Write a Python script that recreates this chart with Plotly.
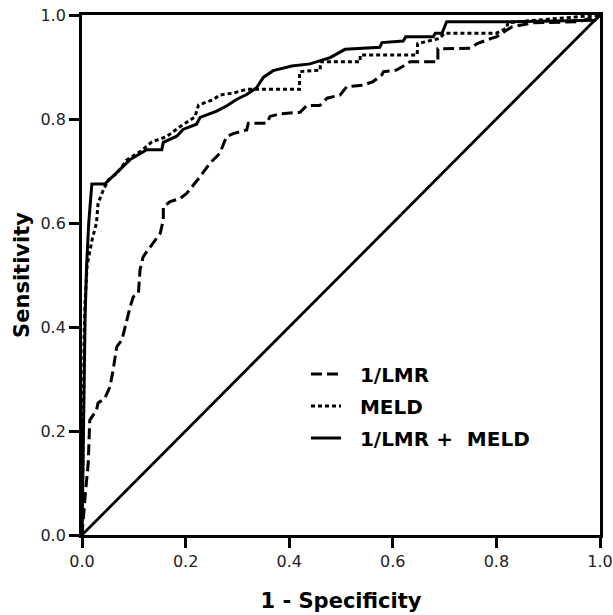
import plotly.graph_objects as go

# --- ROC curve points (x = 1 - specificity, y = sensitivity) ---
lmr_fpr = [0, 0.003, 0.006, 0.012, 0.015, 0.028, 0.031, 0.044, 0.054, 0.06, 0.067, 0.077, 0.083,
           0.093, 0.099, 0.109, 0.112, 0.118, 0.125, 0.141, 0.151, 0.157, 0.157, 0.17, 0.189, 0.202,
           0.228, 0.247, 0.266, 0.279, 0.292, 0.318, 0.321, 0.357, 0.363, 0.382, 0.421, 0.434, 0.459,
           0.473, 0.498, 0.511, 0.543, 0.562, 0.579, 0.582, 0.607, 0.624, 0.633, 0.687, 0.687, 0.75,
           0.763, 0.79, 0.8, 0.82, 0.83, 0.87, 0.96, 1.0]
lmr_tpr = [0, 0.03, 0.074, 0.138, 0.221, 0.24, 0.254, 0.263, 0.285, 0.317, 0.362, 0.375, 0.4,
           0.439, 0.458, 0.465, 0.51, 0.535, 0.545, 0.567, 0.58, 0.606, 0.631, 0.641, 0.647, 0.657,
           0.689, 0.715, 0.734, 0.766, 0.772, 0.779, 0.792, 0.792, 0.805, 0.81, 0.813, 0.826, 0.826,
           0.84, 0.846, 0.862, 0.865, 0.872, 0.885, 0.891, 0.894, 0.904, 0.91, 0.91, 0.935, 0.936,
           0.945, 0.955, 0.958, 0.971, 0.977, 0.985, 0.987, 1.0]

meld_fpr = [0, 0.002, 0.003, 0.004, 0.006, 0.01, 0.02, 0.028, 0.031, 0.041, 0.051, 0.067, 0.086,
            0.112, 0.135, 0.163, 0.189, 0.218, 0.225, 0.253, 0.266, 0.292, 0.318, 0.42, 0.42, 0.46,
            0.46, 0.537, 0.537, 0.647, 0.648, 0.69, 0.7, 0.8, 0.82, 0.822, 0.84, 1.0]
meld_tpr = [0, 0.12, 0.25, 0.38, 0.45, 0.52, 0.57, 0.6, 0.638, 0.663, 0.683, 0.695, 0.721,
            0.737, 0.756, 0.766, 0.785, 0.804, 0.827, 0.837, 0.846, 0.85, 0.857, 0.857, 0.891, 0.894,
            0.91, 0.91, 0.923, 0.923, 0.945, 0.955, 0.965, 0.965, 0.975, 0.985, 0.987, 1.0]

combo_fpr = [0, 0.002, 0.004, 0.006, 0.009, 0.013, 0.019, 0.044, 0.06, 0.073, 0.093, 0.125, 0.154,
             0.157, 0.183, 0.195, 0.221, 0.228, 0.26, 0.279, 0.299, 0.318, 0.337, 0.35, 0.369, 0.405,
             0.44, 0.479, 0.508, 0.575, 0.579, 0.62, 0.625, 0.678, 0.682, 0.695, 0.704, 0.826, 0.99, 1.0]
combo_tpr = [0, 0.15, 0.3, 0.42, 0.52, 0.6, 0.675, 0.675, 0.69, 0.703, 0.722, 0.741, 0.741,
             0.755, 0.767, 0.78, 0.79, 0.803, 0.815, 0.825, 0.838, 0.847, 0.86, 0.88, 0.893, 0.902,
             0.906, 0.918, 0.934, 0.938, 0.947, 0.95, 0.958, 0.958, 0.965, 0.965, 0.987, 0.987, 0.99, 1.0]

ref_line = [0, 1]
tick_vals = [0, 0.2, 0.4, 0.6, 0.8, 1.0]

FONT = 'DejaVu Sans'
PAD = '\u00a0\u00a0'  # small gap between legend line and label, as in the reference

fig = go.Figure()

fig.add_trace(go.Scatter(x=lmr_fpr, y=lmr_tpr, mode='lines', name=f'<b>{PAD}1/LMR</b>', legendgroup='a',
                         line=dict(color='black', width=3, dash='11px,5px')))
fig.add_trace(go.Scatter(x=meld_fpr, y=meld_tpr, mode='lines', name=f'<b>{PAD}MELD</b>', legendgroup='b',
                         line=dict(color='black', width=3, dash='4px,3px')))
fig.add_trace(go.Scatter(x=combo_fpr, y=combo_tpr, mode='lines', name=f'<b>{PAD}1/LMR +\u00a0 MELD</b>',
                         legendgroup='c', line=dict(color='black', width=3)))
# reference diagonal
fig.add_trace(go.Scatter(x=ref_line, y=ref_line, mode='lines', showlegend=False,
                         line=dict(color='black', width=2.8)))

axis_style = dict(
    range=[0, 1], tickvals=tick_vals, tickformat='.1f', automargin=False,
    ticklabeloverflow='allow',
    showline=True, linewidth=2.8, linecolor='black', mirror=True,
    ticks='outside', ticklen=10, tickwidth=2.5, tickcolor='black',
    showgrid=False, zeroline=False,
    tickfont=dict(family=FONT, size=16, color='#222'),
)

fig.update_xaxes(**axis_style,
                 title=dict(text='<b>1 - Specificity</b>', standoff=24,
                            font=dict(family=FONT, size=21, color='black')))
fig.update_yaxes(**axis_style,
                 title=dict(text='<b>Sensitivity</b>', standoff=6,
                            font=dict(family=FONT, size=21, color='black')))

fig.update_layout(
    width=613, height=615,
    margin=dict(l=82, r=13, t=15, b=80),
    plot_bgcolor='white', paper_bgcolor='white',
    legend=dict(x=0.4324, y=0.347, xanchor='left', yanchor='top', bgcolor='rgba(0,0,0,0)',
                font=dict(family=FONT, size=20, color='black'),
                itemwidth=30, tracegroupgap=3),
)

# drop the page's default body margin so the figure sits at the window's corner
fig.write_html("out.html", config={'displayModeBar': False},
               post_script="document.body.style.margin='0';")
